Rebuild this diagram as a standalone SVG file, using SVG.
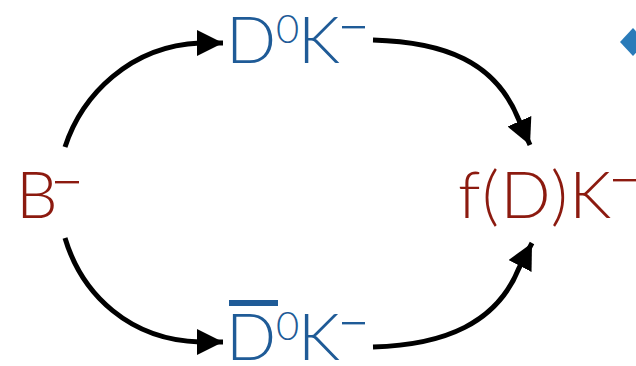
<svg xmlns="http://www.w3.org/2000/svg" width="636" height="366" viewBox="0 0 636 366">
<style>
.t{font-family:Lato,"Open Sans","DejaVu Sans",sans-serif;font-weight:300}
.blue{fill:#1f5b97}
.red{fill:#8c1a0f}
.big{font-size:66px}
.sup{font-size:40px}
.arc{fill:none;stroke:#000;stroke-width:5;stroke-linecap:butt}
</style>
<defs>
<marker id="ah" markerUnits="userSpaceOnUse" markerWidth="28" markerHeight="28" refX="26" refY="13" orient="auto" viewBox="0 0 28 28">
<path d="M0,0 L26,13 L0,26 Z" fill="#000"/>
</marker>
</defs>
<rect width="636" height="366" fill="#fff"/>
<g id="connectors">
<path class="arc" d="M65,147 C82,95 130,46 200,43 L223,43" marker-end="url(#ah)"/>
<path class="arc" d="M373,40 C445,42 495,62 518,118 L530,145" marker-end="url(#ah)"/>
<path class="arc" d="M65,238 C82,295 130,340 200,342 L223,342" marker-end="url(#ah)"/>
<path class="arc" d="M373,347 C445,345 497,323 519,268 L532,243" marker-end="url(#ah)"/>
</g>
<g id="B">
<text class="t red big" x="16" y="218">B</text>
<rect x="55" y="181" width="24" height="2.4" class="red"/>
</g>
<g id="D0K">
<text class="t blue big" x="226" y="63">D</text>
<text class="t blue sup" x="276" y="43">0</text>
<text class="t blue big" x="298" y="63">K</text>
<rect x="342" y="26" width="23" height="2.4" class="blue"/>
</g>
<g id="D0barK">
<rect x="229" y="300" width="49" height="6" class="blue"/>
<text class="t blue big" x="226" y="360">D</text>
<text class="t blue sup" x="276" y="340">0</text>
<text class="t blue big" x="298" y="360">K</text>
<rect x="342" y="322" width="23" height="2.4" class="blue"/>
</g>
<g id="fDK">
<text class="t red big" x="458" y="218" letter-spacing="1.5">f(D)K</text>
<rect x="613" y="179" width="23" height="2.4" class="red"/>
</g>
<g id="bullet">
<path d="M633,28 L646,42 L633,56 L620,42 Z" fill="#2a7bb9"/>
</g>
</svg>
